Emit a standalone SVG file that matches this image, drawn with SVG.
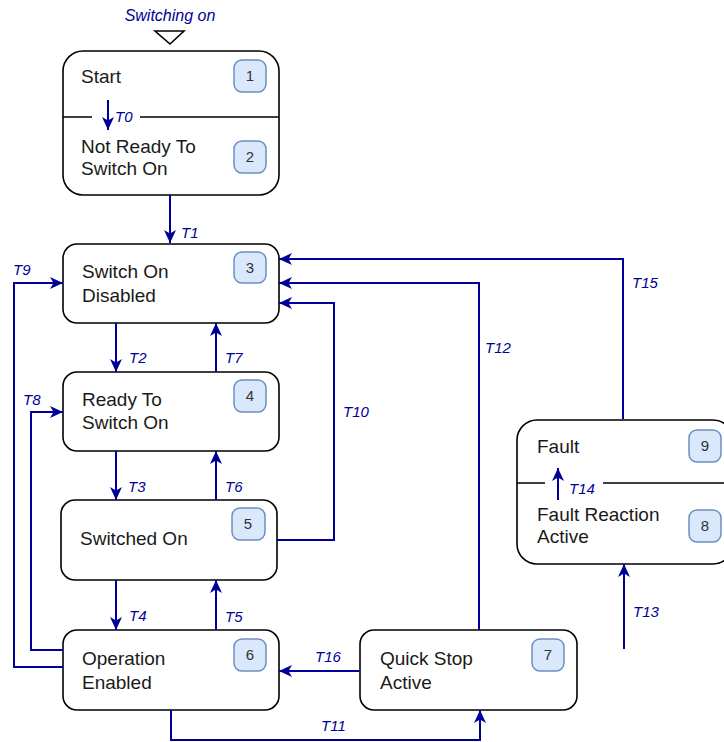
<svg xmlns="http://www.w3.org/2000/svg" width="724" height="742" viewBox="0 0 724 742">
<defs>
<marker id="arr" markerUnits="userSpaceOnUse" markerWidth="14" markerHeight="12" refX="13" refY="6" orient="auto">
<path d="M0,0 L13,6 L0,12 L3.5,6 z" fill="#000099"/>
</marker>
</defs>
<style>
.node{fill:#ffffff;stroke:#000000;stroke-width:1.6}
.div{stroke:#000000;stroke-width:1.6;fill:none}
.badge{fill:#dae8fc;stroke:#6c8ebf;stroke-width:1.5}
.bt{font-family:"Liberation Sans",Arial,sans-serif;font-size:15px;fill:#333333;text-anchor:middle}
.t{font-family:"Liberation Sans",Arial,sans-serif;font-size:19px;fill:#1a1a1a}
.lbl{font-family:"Liberation Sans",Arial,sans-serif;font-size:15px;font-style:italic;fill:#000099}
.c{fill:none;stroke:#000099;stroke-width:2;marker-end:url(#arr)}
</style>
<rect width="724" height="742" fill="#ffffff"/>

<g id="init">
<text class="lbl" x="170" y="21" text-anchor="middle" style="font-size:16px">Switching on</text>
<polygon points="155,31 184,31 170,44" fill="#ffffff" stroke="#000000" stroke-width="1.6"/>
</g>

<g id="node1-2">
<rect class="node" x="63" y="51" width="216" height="144" rx="20"/>
<path class="div" d="M63,117 L92,117 M140,117 L279,117"/>
<text class="t" x="81" y="83">Start</text>
<rect class="badge" x="234" y="60" width="32" height="32" rx="8"/>
<text class="bt" x="250" y="81">1</text>
<text class="t" x="81" y="153">Not Ready To</text>
<text class="t" x="81" y="175">Switch On</text>
<rect class="badge" x="234" y="141" width="32" height="32" rx="8"/>
<text class="bt" x="250" y="162">2</text>
</g>

<g id="node3">
<rect class="node" x="63" y="244" width="216" height="79" rx="14"/>
<text class="t" x="82" y="278">Switch On</text>
<text class="t" x="82" y="302">Disabled</text>
<rect class="badge" x="234" y="252" width="32" height="31" rx="8"/>
<text class="bt" x="250" y="273">3</text>
</g>

<g id="node4">
<rect class="node" x="63" y="372" width="216" height="79" rx="14"/>
<text class="t" x="82" y="406">Ready To</text>
<text class="t" x="82" y="429">Switch On</text>
<rect class="badge" x="234" y="380" width="32" height="32" rx="8"/>
<text class="bt" x="250" y="401">4</text>
</g>

<g id="node5">
<rect class="node" x="61" y="500" width="216" height="80" rx="14"/>
<text class="t" x="80" y="545">Switched On</text>
<rect class="badge" x="232" y="508" width="33" height="32" rx="8"/>
<text class="bt" x="248" y="529">5</text>
</g>

<g id="node6">
<rect class="node" x="63" y="630" width="216" height="80" rx="14"/>
<text class="t" x="82" y="665">Operation</text>
<text class="t" x="82" y="689">Enabled</text>
<rect class="badge" x="234" y="639" width="32" height="32" rx="8"/>
<text class="bt" x="250" y="660">6</text>
</g>

<g id="node7">
<rect class="node" x="360" y="630" width="217" height="80" rx="14"/>
<text class="t" x="380" y="665">Quick Stop</text>
<text class="t" x="380" y="689">Active</text>
<rect class="badge" x="532" y="639" width="32" height="32" rx="8"/>
<text class="bt" x="548" y="660">7</text>
</g>

<g id="node8-9">
<rect class="node" x="517" y="420" width="216" height="144" rx="20"/>
<path class="div" d="M517,483 L545,483 M603,483 L733,483"/>
<text class="t" x="537" y="453">Fault</text>
<rect class="badge" x="689" y="430" width="32" height="32" rx="8"/>
<text class="bt" x="705" y="451">9</text>
<text class="t" x="537" y="521">Fault Reaction</text>
<text class="t" x="537" y="543">Active</text>
<rect class="badge" x="689" y="510" width="32" height="32" rx="8"/>
<text class="bt" x="705" y="531">8</text>
</g>

<g id="connectors">
<path class="c" d="M108,100 L108,130"/>
<path class="c" d="M170,195 L170,243"/>
<path class="c" d="M116,323 L116,372"/>
<path class="c" d="M216,372 L216,323"/>
<path class="c" d="M116,451 L116,500"/>
<path class="c" d="M216,500 L216,451"/>
<path class="c" d="M116,580 L116,630"/>
<path class="c" d="M216,630 L216,580"/>
<path class="c" d="M63,650 L31,650 L31,412 L63,412"/>
<path class="c" d="M63,667 L14,667 L14,283 L63,283"/>
<path class="c" d="M277,540 L334,540 L334,303 L279,303"/>
<path class="c" d="M479,630 L479,283 L279,283"/>
<path class="c" d="M623,419 L623,259 L279,259"/>
<path class="c" d="M360,671 L279,671"/>
<path class="c" d="M171,710 L171,740 L480,740 L480,710"/>
<path class="c" d="M624,649 L624,564"/>
<path class="c" d="M558,500 L558,468"/>
<text class="lbl" x="115" y="122">T0</text>
<text class="lbl" x="181" y="238">T1</text>
<text class="lbl" x="129" y="363">T2</text>
<text class="lbl" x="225" y="363">T7</text>
<text class="lbl" x="128" y="492">T3</text>
<text class="lbl" x="225" y="492">T6</text>
<text class="lbl" x="129" y="621">T4</text>
<text class="lbl" x="225" y="622">T5</text>
<text class="lbl" x="13" y="275">T9</text>
<text class="lbl" x="23" y="405">T8</text>
<text class="lbl" x="343" y="417">T10</text>
<text class="lbl" x="485" y="353">T12</text>
<text class="lbl" x="632" y="288">T15</text>
<text class="lbl" x="315" y="662">T16</text>
<text class="lbl" x="321" y="731">T11</text>
<text class="lbl" x="633" y="617">T13</text>
<text class="lbl" x="569" y="494">T14</text>
</g>
</svg>
